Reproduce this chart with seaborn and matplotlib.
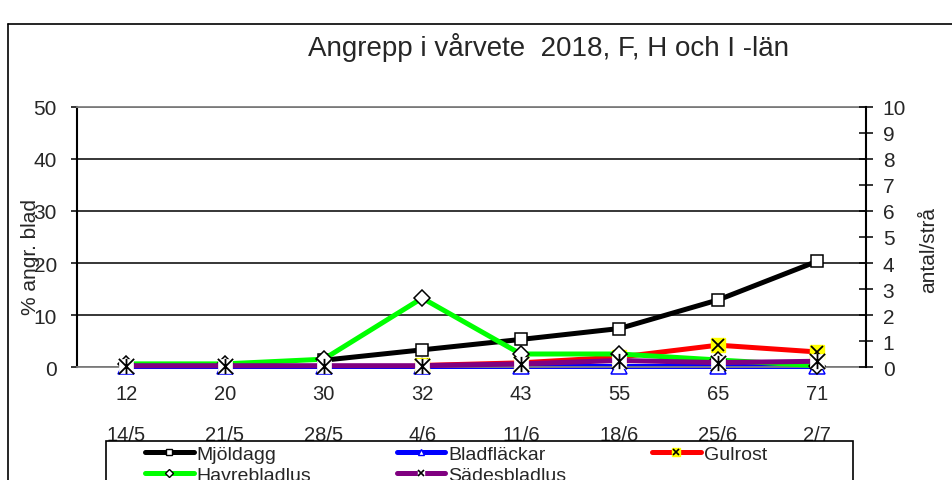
import numpy as np
import pandas as pd
import matplotlib
matplotlib.use("Agg")
import matplotlib.pyplot as plt
import seaborn as sns
from matplotlib.path import Path
from matplotlib.lines import Line2D
from matplotlib.legend_handler import HandlerTuple
from matplotlib.patches import Rectangle
from matplotlib.transforms import blended_transform_factory

# ---------------- data ----------------
stages = ["12", "20", "30", "32", "43", "55", "65", "71"]
dates = ["14/5", "21/5", "28/5", "4/6", "11/6", "18/6", "25/6", "2/7"]
# left axis: % angr. blad
mjoldagg = [np.nan, np.nan, 1.3, 3.3, 5.3, 7.4, 12.9, 20.3]
bladflackar = [0.2, 0.2, 0.2, 0.2, 0.2, 0.2, 0.2, 0.2]
gulrost = [np.nan, np.nan, np.nan, 0.3, 0.8, 1.9, 4.2, 2.9]
# right axis: antal/strå
havrebladlus = [0.12, 0.12, 0.3, 2.65, 0.5, 0.5, 0.27, 0.05]
sadesbladlus = [0.05, 0.05, 0.05, 0.05, 0.12, 0.25, 0.17, 0.22]

series_names = ["Mjöldagg", "Bladfläckar", "Gulrost", "Havrebladlus", "Sädesbladlus"]

df = pd.DataFrame({
    "pos": np.arange(len(stages)),
    "Mjöldagg": mjoldagg,
    "Bladfläckar": bladflackar,
    "Gulrost": gulrost,
    "Havrebladlus": havrebladlus,
    "Sädesbladlus": sadesbladlus,
})

# ---------------- style ----------------
sns.set_style("white")
plt.rcParams["font.family"] = ["Liberation Sans", "DejaVu Sans"]

GREEN = "#00FF00"
PURPLE = "#800080"
RED = "#FF0000"
BLUE = "#0000FF"
YELLOW = "#FFFF00"
LW = 3.6

star = Path([(-1, -1), (1, 1), (-1, 1), (1, -1), (0, -1), (0, 1)],
            [Path.MOVETO, Path.LINETO] * 3)

fig = plt.figure(figsize=(9.53, 4.81), dpi=100)
ax = fig.add_axes([77 / 953, 1 - 368 / 481, (866 - 77) / 953, 260 / 481])
ax2 = ax.twinx()

common = dict(clip_on=False)

# primary axis series
sns.lineplot(data=df, x="pos", y="Mjöldagg", ax=ax, color="black", lw=LW,
             marker="s", markersize=9, markerfacecolor="white",
             markeredgecolor="black", markeredgewidth=1.1, **common)
sns.lineplot(data=df, x="pos", y="Bladfläckar", ax=ax, color=BLUE, lw=LW,
             marker="^", markersize=11, markerfacecolor="white",
             markeredgecolor=BLUE, markeredgewidth=1.1, **common)
sns.lineplot(data=df, x="pos", y="Gulrost", ax=ax, color=RED, lw=LW,
             marker="s", markersize=10, markerfacecolor=YELLOW,
             markeredgecolor=YELLOW, markeredgewidth=1.0, **common)
sns.lineplot(data=df, x="pos", y="Gulrost", ax=ax, color="black", ls="none",
             marker="x", markersize=9, markeredgecolor="black",
             markeredgewidth=1.3, **common)

# secondary axis series
sns.lineplot(data=df, x="pos", y="Havrebladlus", ax=ax2, color=GREEN, lw=LW,
             marker="D", markersize=8, markerfacecolor="white",
             markeredgecolor="black", markeredgewidth=1.1, **common)
sns.lineplot(data=df, x="pos", y="Sädesbladlus", ax=ax2, color=PURPLE, lw=LW,
             marker="s", markersize=10, markerfacecolor="white",
             markeredgecolor="white", markeredgewidth=0.5, **common)
sns.lineplot(data=df, x="pos", y="Sädesbladlus", ax=ax2, color="black", ls="none",
             marker=star, markersize=11, markerfacecolor="none",
             markeredgecolor="black", markeredgewidth=1.3, **common)

# ---------------- axes ----------------
ax.set_xlim(-0.5, len(stages) - 0.5)
ax.set_ylim(0, 50)
ax2.set_ylim(0, 10)
ax.set_yticks(range(0, 51, 10))
ax2.set_yticks(range(0, 11))
ax.set_xticks(np.arange(len(stages)))
ax.set_xticklabels(stages)
ax.set_xlabel("")
ax.set_ylabel("")
ax2.set_ylabel("")

ax.grid(False)
ax2.grid(False)
ax.yaxis.grid(True, color="black", lw=1.1)
ax.set_axisbelow(True)

for s in ["top", "bottom"]:
    ax.spines[s].set_color("#808080")
    ax.spines[s].set_linewidth(1.3)
    ax2.spines[s].set_visible(False)
ax.spines["left"].set_color("black")
ax.spines["left"].set_linewidth(1.5)
ax.spines["right"].set_visible(False)
ax2.spines["left"].set_visible(False)
ax2.spines["right"].set_color("black")
ax2.spines["right"].set_linewidth(1.5)

ax.tick_params(axis="y", direction="out", length=4.5, width=1.1, color="black",
               labelsize=15, pad=10, left=True)
ax.tick_params(axis="x", length=0, labelsize=14.5, pad=12.5)
ax2.tick_params(axis="y", direction="inout", length=10, width=1.1, color="black",
                labelsize=15, pad=7, right=True)

trans = blended_transform_factory(ax.transData, ax.transAxes)
for i, d in enumerate(dates):
    ax.text(i, (368 - 441) / 260, d, transform=trans, ha="center",
            va="baseline", fontsize=14.5)

# ---------------- texts ----------------
fig.text(549 / 953, 1 - 56.5 / 481, "Angrepp i vårvete  2018, F, H och I -län",
         ha="center", va="baseline", fontsize=20)
fig.text(31 / 953, 1 - 257 / 481, "% angr. blad", rotation=90, ha="center",
         va="center", fontsize=15)
fig.text(929 / 953, 1 - 250 / 481, "antal/strå", rotation=90, ha="center",
         va="center", fontsize=15)

# outer border (cut off at right/bottom)
fig.add_artist(Line2D([8 / 953, 8 / 953], [0, 1 - 25 / 481], transform=fig.transFigure,
                      color="black", lw=1.2))
fig.add_artist(Line2D([8 / 953, 1], [1 - 25 / 481, 1 - 25 / 481], transform=fig.transFigure,
                      color="black", lw=1.2))

# legend frame
fig.add_artist(Rectangle((106 / 953, -0.05), (853 - 106) / 953, (481 - 442) / 481 + 0.05,
                         transform=fig.transFigure, fill=False, ec="black", lw=1.2,
                         clip_on=False))

h_mj = Line2D([], [], color="black", lw=LW, marker="s", ms=5, mfc="white", mec="black", mew=1)
h_bl = Line2D([], [], color=BLUE, lw=LW, marker="^", ms=5, mfc="white", mec=BLUE, mew=1)
h_gu = (Line2D([], [], color=RED, lw=LW, marker="s", ms=6, mfc=YELLOW, mec=YELLOW),
        Line2D([], [], ls="none", marker="x", ms=5, mec="black", mew=1.2))
h_hv = Line2D([], [], color=GREEN, lw=LW, marker="D", ms=4, mfc="white", mec="black", mew=1)
h_sd = (Line2D([], [], color=PURPLE, lw=LW, marker="s", ms=5, mfc="white", mec="white"),
        Line2D([], [], ls="none", marker="x", ms=5, mec="black", mew=1.2))

handles = [h_mj, h_hv, h_bl, h_sd, h_gu]
labels = [series_names[0], series_names[3], series_names[1], series_names[4], series_names[2]]
fig.legend(handles, labels, loc="upper left", bbox_to_anchor=(145 / 953, 1 - 446 / 481),
           ncol=3, frameon=False, fontsize=14, handlelength=2.5, handletextpad=0.15,
           columnspacing=4.4, labelspacing=0.2, borderpad=0, borderaxespad=0,
           handler_map={tuple: HandlerTuple(ndivide=1, pad=0)})

fig.savefig("out.png", dpi=100)
